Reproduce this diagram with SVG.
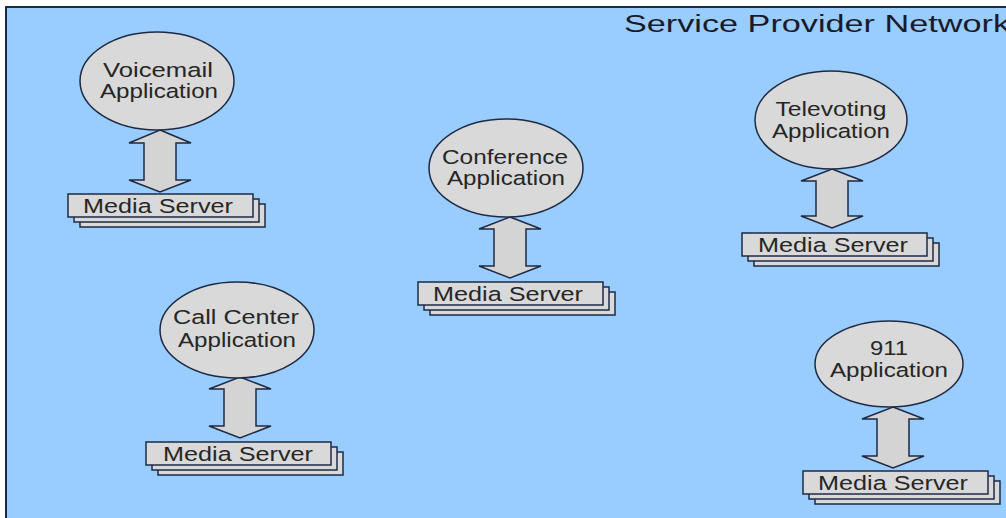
<svg xmlns="http://www.w3.org/2000/svg" width="1006" height="518" viewBox="0 0 1006 518">
<style>
.app{fill:#d9d9d9;stroke:#1e2a44;stroke-width:1.5}
.ms{fill:#d9d9d9;stroke:#1e2a44;stroke-width:1.5}
.arr{fill:#d4d4d4;stroke:#1e2a44;stroke-width:1.5;stroke-linejoin:miter}
.t{font-family:"Liberation Sans",Arial,sans-serif;font-size:20.5px;fill:#262626;text-anchor:middle}
.title{font-family:"Liberation Sans",Arial,sans-serif;font-size:23px;fill:#1a1a2a}
</style>
<rect x="0" y="0" width="1006" height="518" fill="#ffffff"/>
<rect x="6" y="7" width="1010" height="520" fill="#99ccff" stroke="#1e2a44" stroke-width="2"/>
<text class="title" x="624" y="32" textLength="386" lengthAdjust="spacingAndGlyphs">Service Provider Network</text>

<g id="connectors">
<polygon class="arr" points="160,130 191,143 176,143 176,180 191,180 160,192 129,180 144,180 144,143 129,143"/>
<polygon class="arr" points="510,217 541,229 526,229 526,266 541,266 510,278 479,266 494,266 494,229 479,229"/>
<polygon class="arr" points="240,377 271,389 256,389 256,426 271,426 240,438 209,426 224,426 224,389 209,389"/>
<polygon class="arr" points="832,169 863,181 848,181 848,216 863,216 832,228 801,216 816,216 816,181 801,181"/>
<polygon class="arr" points="893,407 924,419 909,419 909,456 924,456 893,468 862,456 877,456 877,419 862,419"/>
</g>

<g id="voicemail-app">
<ellipse class="app" cx="157" cy="81" rx="77" ry="49"/>
<text class="t" x="158" y="77" textLength="110" lengthAdjust="spacingAndGlyphs">Voicemail</text>
<text class="t" x="159" y="98" textLength="118" lengthAdjust="spacingAndGlyphs">Application</text>
</g>
<g id="voicemail-ms">
<rect class="ms" x="80" y="204" width="185" height="23"/>
<rect class="ms" x="74" y="199" width="185" height="23"/>
<rect class="ms" x="68" y="194" width="185" height="23"/>
<text class="t" x="158" y="213" textLength="150" lengthAdjust="spacingAndGlyphs">Media Server</text>
</g>

<g id="conference-app">
<ellipse class="app" cx="506" cy="168" rx="77" ry="49"/>
<text class="t" x="505" y="164" textLength="126" lengthAdjust="spacingAndGlyphs">Conference</text>
<text class="t" x="506" y="185" textLength="118" lengthAdjust="spacingAndGlyphs">Application</text>
</g>
<g id="conference-ms">
<rect class="ms" x="430" y="292" width="185" height="23"/>
<rect class="ms" x="424" y="287" width="185" height="23"/>
<rect class="ms" x="418" y="282" width="185" height="23"/>
<text class="t" x="508" y="301" textLength="150" lengthAdjust="spacingAndGlyphs">Media Server</text>
</g>

<g id="callcenter-app">
<ellipse class="app" cx="237" cy="330" rx="77" ry="48"/>
<text class="t" x="236" y="324" textLength="126" lengthAdjust="spacingAndGlyphs">Call Center</text>
<text class="t" x="237" y="347" textLength="118" lengthAdjust="spacingAndGlyphs">Application</text>
</g>
<g id="callcenter-ms">
<rect class="ms" x="158" y="452" width="185" height="23"/>
<rect class="ms" x="152" y="447" width="185" height="23"/>
<rect class="ms" x="146" y="442" width="185" height="23"/>
<text class="t" x="238" y="461" textLength="150" lengthAdjust="spacingAndGlyphs">Media Server</text>
</g>

<g id="televoting-app">
<ellipse class="app" cx="831" cy="120" rx="76" ry="49"/>
<text class="t" x="831" y="116" textLength="111" lengthAdjust="spacingAndGlyphs">Televoting</text>
<text class="t" x="831" y="138" textLength="118" lengthAdjust="spacingAndGlyphs">Application</text>
</g>
<g id="televoting-ms">
<rect class="ms" x="754" y="243" width="185" height="23"/>
<rect class="ms" x="748" y="238" width="185" height="23"/>
<rect class="ms" x="742" y="233" width="185" height="23"/>
<text class="t" x="833" y="252" textLength="150" lengthAdjust="spacingAndGlyphs">Media Server</text>
</g>

<g id="app-911">
<ellipse class="app" cx="889" cy="364" rx="74" ry="43"/>
<text class="t" x="889" y="355" textLength="38" lengthAdjust="spacingAndGlyphs">911</text>
<text class="t" x="889" y="377" textLength="118" lengthAdjust="spacingAndGlyphs">Application</text>
</g>
<g id="ms-911">
<rect class="ms" x="815" y="481" width="185" height="23"/>
<rect class="ms" x="809" y="476" width="185" height="23"/>
<rect class="ms" x="803" y="471" width="185" height="23"/>
<text class="t" x="893" y="490" textLength="150" lengthAdjust="spacingAndGlyphs">Media Server</text>
</g>
</svg>
